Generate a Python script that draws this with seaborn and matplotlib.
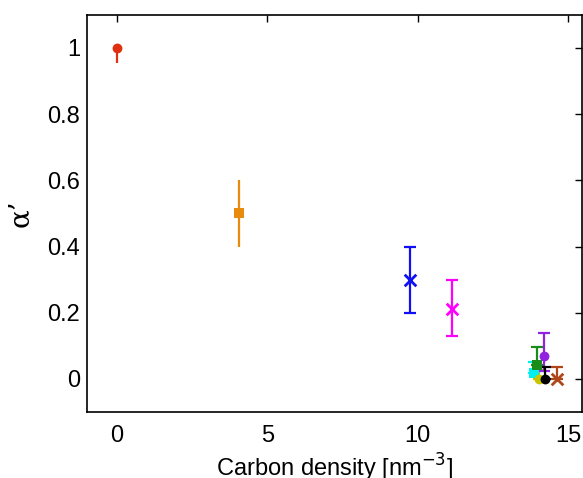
import numpy as np
import pandas as pd
import matplotlib
matplotlib.use("Agg")
import matplotlib.pyplot as plt
import seaborn as sns

# Data
density = [0.0, 4.05, 9.73, 11.13, 13.85, 13.97, 14.03, 14.19, 14.23, 14.63]
alpha = [1.0, 0.50, 0.30, 0.21, 0.018, 0.042, 0.0, 0.07, 0.0, 0.0]
err_low = [0.045, 0.10, 0.10, 0.08, 0.0, 0.0, 0.0, 0.045, 0.0, 0.0]
err_high = [0.0, 0.10, 0.10, 0.09, 0.033, 0.055, 0.027, 0.07, 0.036, 0.036]
markers = ['o', 's', 'x', 'x', 's', 's', 'o', 'o', 'o', 'x']
colors = ['#e0300f', '#e88a0c', '#1010f0', '#ff00ff', '#00f0f0',
          '#1a8c1a', '#c8c400', '#9022e0', '#000000', '#b0461a']
caps = [0, 0, 4, 4, 4, 4, 4, 4, 4, 4]

df = pd.DataFrame({'density': density, 'alpha': alpha,
                   'lo': err_low, 'hi': err_high})

sns.set_style("white")
plt.rcParams['font.family'] = ['Liberation Sans', 'DejaVu Sans']
plt.rcParams['text.color'] = 'black'
plt.rcParams['axes.labelcolor'] = 'black'
plt.rcParams['xtick.color'] = 'black'
plt.rcParams['ytick.color'] = 'black'

fig = plt.figure(figsize=(5.83, 4.78), dpi=100)
ax = fig.add_axes([0.149, 0.138, 0.849, 0.831])

for i, row in df.iterrows():
    ax.errorbar(row['density'], row['alpha'],
                yerr=[[row['lo']], [row['hi']]],
                fmt='none', ecolor=colors[i], elinewidth=1.6,
                capsize=caps[i], capthick=1.6, zorder=2)
    sns.scatterplot(x=[row['density']], y=[row['alpha']], ax=ax,
                    marker=markers[i], color=colors[i],
                    s=70 if markers[i] == 'x' else 50,
                    linewidth=2 if markers[i] == 'x' else 0,
                    edgecolor=colors[i] if markers[i] != 'x' else None,
                    zorder=3, legend=False)

ax.set_xlim(-1, 15.45)
ax.set_ylim(-0.1, 1.1)
ax.set_xticks([0, 5, 10, 15])
ax.set_yticks([0, 0.2, 0.4, 0.6, 0.8, 1])
ax.set_yticklabels(['0', '0.2', '0.4', '0.6', '0.8', '1'])
ax.tick_params(direction='in', length=5, width=1, top=True, right=True,
               labelsize=17, color='black', labelcolor='black')
ax.tick_params(axis='x', pad=9)
ax.tick_params(axis='y', pad=5)
for s in ax.spines.values():
    s.set_color('black')
    s.set_linewidth(1.2)

ax.set_xlabel('Carbon density [nm$^{-3}$]', fontsize=17, labelpad=4)
ax.set_ylabel("α’", fontsize=20, family=['DejaVu Serif'])
ax.yaxis.set_label_coords(-0.107, 0.5)

fig.savefig('out.png', dpi=100)
